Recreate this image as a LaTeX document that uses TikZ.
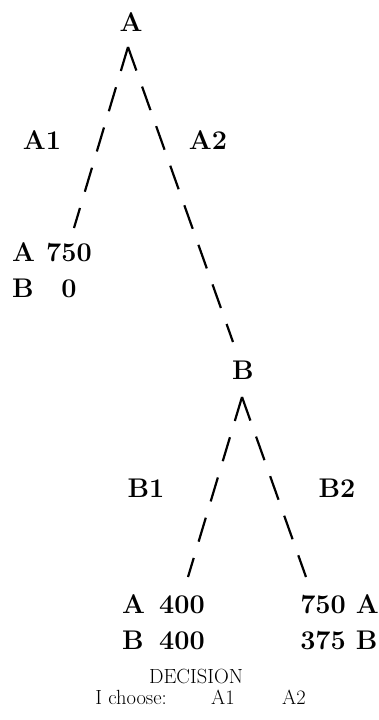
\documentclass[tikz,border=0pt]{standalone}
\usepackage{tikz}
\usetikzlibrary{positioning, calc}

\begin{document}
\begin{tikzpicture}[
		x=1pt, y=-1pt,
		big/.style={inner sep=0pt, font=\fontsize{27}{36}\selectfont\bfseries},
		pay/.style={big, align=left},
		small/.style={inner sep=0pt, font=\fontsize{20.5}{24}\selectfont},
		branch/.style={line width=2.2pt, dash pattern=on 25pt off 17pt}
	]
	\useasboundingbox (0,0) rectangle (379,720);

	% ===== Player A's move =====
	\node[big] (A)  at (131,22)  {A};
	\coordinate (Atip) at (128,47);
	\node[big] (lA1) at (42,140)  {A1};
	\node[big] (lA2) at (208,140) {A2};

	\node[pay, anchor=west] (payA1) at (12,272)
		{\begin{tabular}{@{}l@{\hspace{11pt}}c@{}}A & 750\\ B & 0\end{tabular}};
	\coordinate (A1end) at (74,228);

	% ===== Player B's move =====
	\node[big] (B)  at (243,370) {B};
	\coordinate (A2end) at (233,342);
	\coordinate (Btip) at (242,397);
	\node[big] (lB1) at (146,488) {B1};
	\node[big] (lB2) at (337,488) {B2};

	\node[pay, anchor=west] (payB1) at (122,624.5)
		{\begin{tabular}{@{}l@{\hspace{14pt}}c@{}}A & 400\\ B & 400\end{tabular}};
	\node[pay, anchor=east] (payB2) at (379,624.5)
		{\begin{tabular}{@{}c@{\hspace{10pt}}l@{}}750 & A\\ 375 & B\end{tabular}};
	\coordinate (B1end) at (188,577);
	\coordinate (B2end) at (306,577);

	% the branches start at the tip, so the first dashes form the caret
	\draw[branch] (Atip) -- (A1end);
	\draw[branch] (Atip) -- (A2end);
	\draw[branch] (Btip) -- (B1end);
	\draw[branch] (Btip) -- (B2end);

	% ===== Decision line =====
	\node[small] (dec) at (196,676) {DECISION};
	\node[small, anchor=east] (choose) at (167,697) {I choose:};
	\node[small] (cA1) at (223,697) {A1};
	\node[small] (cA2) at (294,697) {A2};
\end{tikzpicture}
\end{document}
